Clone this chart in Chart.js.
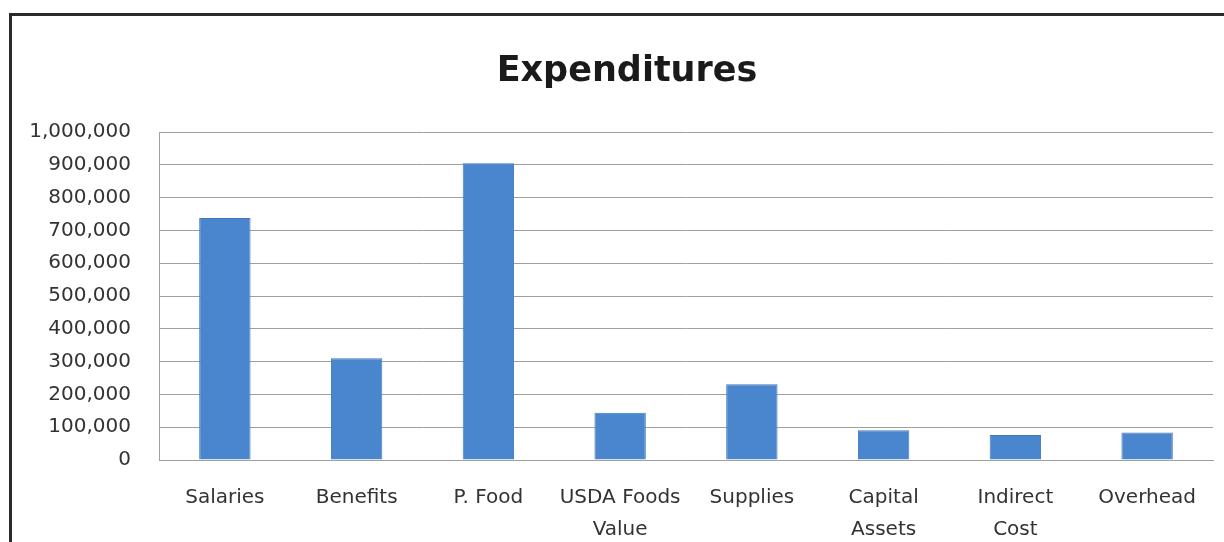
<!DOCTYPE html>
<html>
<head>
<meta charset="utf-8">
<title>Expenditures</title>
<script src="https://cdn.jsdelivr.net/npm/chart.js@4.4.1/dist/chart.umd.min.js"></script>
<style>
  html, body { margin: 0; padding: 0; background: #ffffff; overflow: hidden; }
  #wrap { position: relative; width: 1224px; height: 542px; }
  #frame {
    position: absolute; left: 9px; top: 13px; width: 1300px; height: 600px;
    border: 3px solid #2b2b2b; pointer-events: none;
  }
</style>
</head>
<body>
<div id="wrap">
  <canvas id="expChart" width="1224" height="542"></canvas>
  <div id="frame"></div>
</div>
<script>
/* ---------- データ ---------- */
var CATEGORIES = ["Salaries", "Benefits", "P. Food", ["USDA Foods", "Value"], "Supplies",
  ["Capital", "Assets"], ["Indirect", "Cost"], "Overhead"];
var EXPENDITURES = [738000, 310000, 905000, 144000, 231000, 91000, 76000, 84000];
var Y_TICKS = [0, 100000, 200000, 300000, 400000, 500000, 600000, 700000, 800000, 900000, 1000000];
var CHART_TITLE = "Expenditures";

(function () {
  var FONT = '"DejaVu Sans", sans-serif';
  var TEXT = "#333333";
  var GRID = "#a0a0a0";

  function fmt(v) {
    return v.toLocaleString("en-US");
  }

  /* ---------- タイトル（枠の中央に描く） ---------- */
  var titlePlugin = {
    id: "frameTitle",
    afterDraw: function (chart) {
      var c = chart.ctx;
      c.save();
      c.fillStyle = "#1a1a1a";
      c.font = "bold 35px " + FONT;
      c.textAlign = "center";
      c.textBaseline = "middle";
      c.fillText(CHART_TITLE, 627, 72);
      c.restore();
    }
  };

  function initChart() {
    var ctx = document.getElementById("expChart").getContext("2d");
    new Chart(ctx, {
      type: "bar",
      data: {
        labels: CATEGORIES,
        datasets: [{
          label: CHART_TITLE,
          data: EXPENDITURES,
          backgroundColor: "#4a86ce",
          borderColor: "#4279bd",
          borderWidth: 1,
          categoryPercentage: 1,
          barPercentage: 0.39
        }]
      },
      options: {
        responsive: false,
        animation: false,
        devicePixelRatio: 1,
        layout: { padding: { left: 0, right: 11, top: 132, bottom: 0 } },
        scales: {
          x: {
            afterFit: function (scale) {
              scale.height = 82;
            },
            grid: { display: false, drawTicks: false },
            border: { display: true, color: GRID, width: 1 },
            ticks: {
              color: TEXT,
              padding: 22,
              maxRotation: 0,
              autoSkip: false,
              font: { family: FONT, size: 20, lineHeight: 1.6 }
            }
          },
          y: {
            min: 0,
            max: 1000000,
            afterBuildTicks: function (scale) {
              scale.ticks = Y_TICKS.map(function (v) { return { value: v }; });
            },
            afterFit: function (scale) {
              scale.width = 159;
              scale.paddingTop = 0;
            },
            grid: { color: GRID, lineWidth: 1, drawTicks: false },
            border: { display: true, color: GRID, width: 1 },
            ticks: {
              color: TEXT,
              padding: 28,
              font: { family: FONT, size: 20 },
              callback: function (v) { return fmt(v); }
            }
          }
        },
        plugins: {
          legend: { display: false },
          tooltip: { enabled: false },
          title: { display: false }
        }
      },
      plugins: [titlePlugin]
    });
  }

  initChart();
})();
</script>
</body>
</html>
